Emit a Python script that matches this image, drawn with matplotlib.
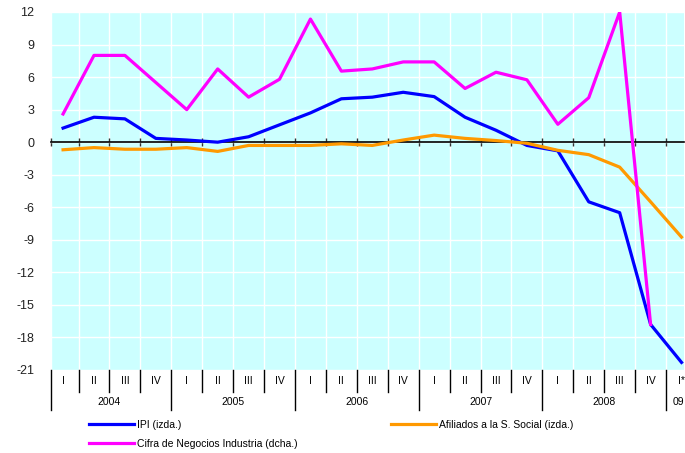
import numpy as np
import matplotlib
matplotlib.use("Agg")
import matplotlib.pyplot as plt
import matplotlib.transforms as mtransforms

plt.rcParams['font.family'] = ['Liberation Sans', 'DejaVu Sans']

quarters = ["I", "II", "III", "IV"] * 5 + ["I*"]
years = ["2004", "2005", "2006", "2007", "2008", "09"]
year_len = [4, 4, 4, 4, 4, 1]

ipi = [1.3, 2.3, 2.15, 0.35, 0.2, 0.0, 0.5, 1.6, 2.7, 4.0, 4.15, 4.6,
       4.2, 2.3, 1.1, -0.3, -0.8, -5.5, -6.5, -16.8, -20.3]
afiliados = [-0.7, -0.5, -0.65, -0.65, -0.5, -0.85, -0.3, -0.3, -0.3, -0.15, -0.3, 0.2,
             0.65, 0.35, 0.15, -0.1, -0.75, -1.15, -2.3, -5.5, -8.75]
cifra = [2.6, 8.0, 8.0, 5.5, 3.0, 6.75, 4.15, 5.8, 11.35, 6.55, 6.75, 7.4,
         7.4, 4.95, 6.45, 5.75, 1.65, 4.1, 12.0, -16.8]

fig = plt.figure(figsize=(6.85, 4.53), dpi=100)
ax = fig.add_axes([50.7 / 685, 1 - 370 / 453, (684 - 50.7) / 685, 358 / 453])
ax.set_facecolor("#CCFFFF")

x = np.arange(len(quarters))
lw = 2.3
l_ipi, = ax.plot(x, ipi, color="#0000FF", lw=lw, label="IPI (izda.)", zorder=3)
l_af, = ax.plot(x, afiliados, color="#FF9900", lw=lw, label="Afiliados a la S. Social (izda.)", zorder=3)
l_ci, = ax.plot(x[:len(cifra)], cifra, color="#FF00FF", lw=lw,
                label="Cifra de Negocios Industria (dcha.)", zorder=4)

ax.set_xlim(-0.4, 20.08)
ax.set_ylim(-21, 12)

# grid
bounds = np.arange(len(quarters) - 1) + 0.5
ax.set_xticks(np.concatenate([[-0.4], bounds]))
ax.set_xticklabels([])
ax.set_yticks(np.arange(-21, 13, 3))
ax.set_yticklabels([str(v) for v in np.arange(-21, 13, 3)])
ax.grid(True, color="white", lw=1.0)
ax.set_axisbelow(True)

for s in ["top", "right", "left"]:
    ax.spines[s].set_visible(False)
ax.spines["bottom"].set_position(("data", 0))
ax.spines["bottom"].set_color("black")
ax.spines["bottom"].set_linewidth(1.2)
ax.spines["bottom"].set_zorder(2.5)
ax.tick_params(axis="x", direction="inout", length=6, width=1, color="#333333")
ax.tick_params(axis="y", length=0, pad=12, labelsize=9, labelcolor="#222222")

# category labels under the plot
tr = mtransforms.blended_transform_factory(ax.transData, ax.transAxes)
for i, q in enumerate(quarters):
    ax.text(i, -0.031, q, transform=tr, ha="center", va="center", fontsize=7.5)
edges = [-0.4] + list(bounds)
year_starts = np.cumsum([0] + year_len[:-1])
for e_i, e in enumerate(edges):
    long = e_i in year_starts
    ax.plot([e, e], [0, -0.112 if long else -0.061], transform=tr, color="black",
            lw=1, clip_on=False)
for y, s, n in zip(years, year_starts, year_len):
    if n > 1:
        ax.text((2 * s + n - 1) / 2, -0.089, y, transform=tr, ha="center",
                va="center", fontsize=7.5)
    else:
        ax.text(s - 0.3, -0.089, y, transform=tr, ha="left", va="center", fontsize=7.5)

fig.legend(handles=[l_ipi, l_ci, l_af], ncol=2, frameon=False, fontsize=7.5,
           loc="upper left", bbox_to_anchor=(89 / 685, 1 - 420 / 453),
           handlelength=4.3, handletextpad=0.3, columnspacing=9.0,
           labelspacing=0.85, borderaxespad=0, borderpad=0)

fig.savefig("out.png", dpi=100)
